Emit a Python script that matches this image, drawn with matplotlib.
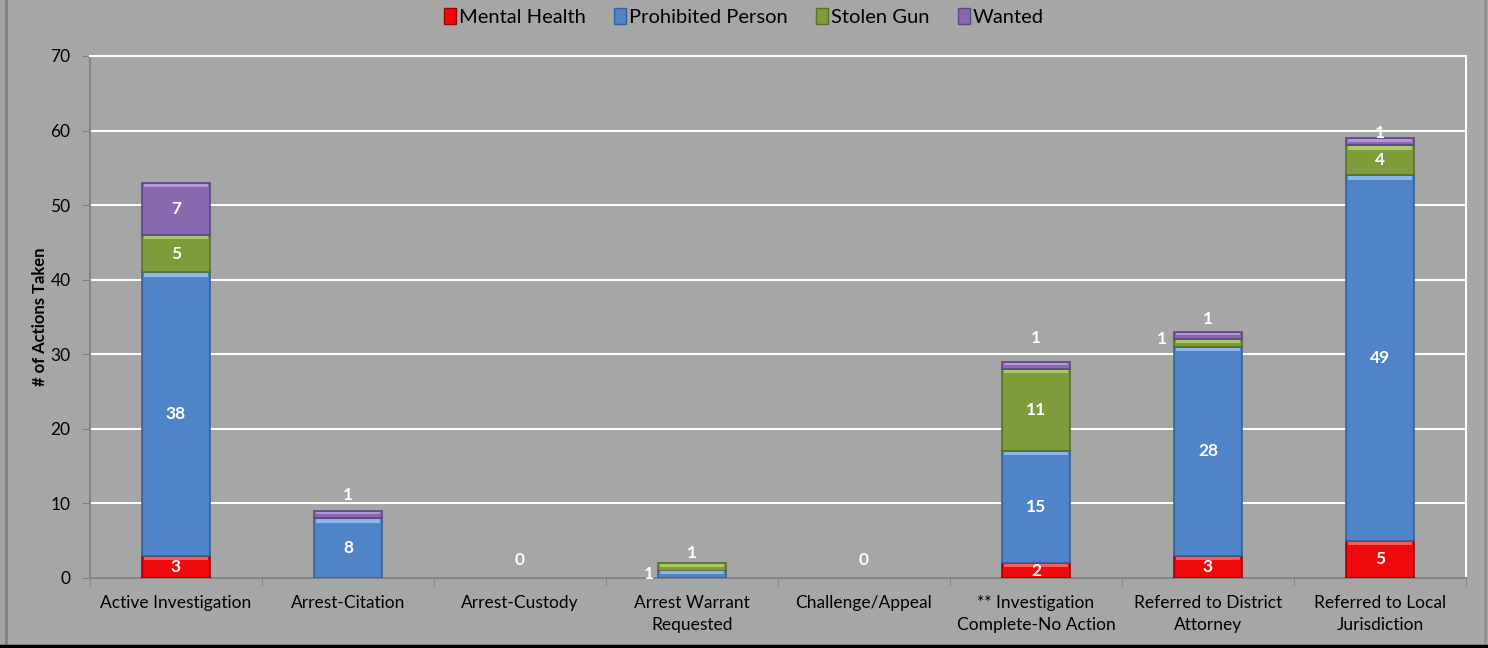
#!/usr/bin/env python
# encoding: utf-8
"""
plot.py - stacked bar chart of actions taken by category
"""
import numpy as np
import matplotlib
matplotlib.use("Agg")
import matplotlib.pyplot as plt
from matplotlib.lines import Line2D
from matplotlib.patches import Patch

# Data
categories = ["Active Investigation", "Arrest-Citation", "Arrest-Custody",
              "Arrest Warrant\nRequested", "Challenge/Appeal",
              "** Investigation\nComplete-No Action", "Referred to District\nAttorney",
              "Referred to Local\nJurisdiction"]
series_names = ["Mental Health", "Prohibited Person", "Stolen Gun", "Wanted"]
mental_health = [3, 0, 0, 0, 0, 2, 3, 5]
prohibited_person = [38, 8, 0, 1, 0, 15, 28, 49]
stolen_gun = [5, 0, 0, 1, 0, 11, 1, 4]
wanted = [7, 1, 0, 0, 0, 1, 1, 1]
y_ticks = [0, 10, 20, 30, 40, 50, 60, 70]

colors = ["#ee0a0a", "#4f84c8", "#7f9c3c", "#8868ae"]
edges = ["#a00000", "#36609a", "#58702a", "#5e4680"]
lights = ["#ff5a5a", "#8ab8ee", "#aac86a", "#b596d8"]
bg = "#a6a6a6"

plt.rcParams["font.family"] = ["Lato", "DejaVu Sans"]

fig = plt.figure(figsize=(14.88, 6.48), dpi=100, facecolor=bg)
ax = fig.add_axes([90 / 1488, 1 - 578 / 648, (1466 - 90) / 1488, (578 - 56) / 648])
ax.set_facecolor(bg)

x = np.arange(len(categories))
width = 0.4
bottom = np.zeros(len(categories))
all_series = [mental_health, prohibited_person, stolen_gun, wanted]
for vals, c, ec, lc in zip(all_series, colors, edges, lights):
    vals = np.array(vals, dtype=float)
    m = vals > 0
    ax.bar(x[m], vals[m], width, bottom=bottom[m], color=c, edgecolor=ec,
           linewidth=1.2, zorder=3)
    # bevel highlight along the top of each segment
    hl = np.minimum(vals[m] * 0.35, 0.45)
    ax.bar(x[m], hl, width * 0.93, bottom=bottom[m] + vals[m] - hl - 0.12,
           color=lc, linewidth=0, zorder=4)
    bottom += vals

# Value labels (offsets in points: default centred, small segments moved)
moved = {
    (1, 3): (0, 14), (3, 1): (-31, 0), (3, 2): (0, 10),
    (5, 3): (0, 20), (6, 2): (-33, 3), (6, 3): (0, 12), (7, 3): (0, 6),
}
bottom = np.zeros(len(categories))
for si, vals in enumerate(all_series):
    for ci, v in enumerate(vals):
        if v > 0:
            off = moved.get((ci, si), (0, 0))
            ax.annotate(str(v), (x[ci], bottom[ci] + v / 2), xytext=off,
                        textcoords="offset points", ha="center", va="center",
                        color="white", fontsize=12.5, fontweight="bold", zorder=6)
    bottom += np.array(vals)
for ci in range(len(categories)):
    if bottom[ci] == 0:
        ax.annotate("0", (x[ci], 0), xytext=(0, 13), textcoords="offset points",
                    ha="center", va="center", color="white", fontsize=12.5,
                    fontweight="bold", zorder=6)

# Axes styling
ax.set_xlim(-0.5, len(categories) - 0.5)
ax.set_ylim(0, 70)
ax.set_yticks(y_ticks)
ax.yaxis.grid(True, color="white", linewidth=1.5, zorder=0)
ax.set_axisbelow(True)
ax.set_xticks(x)
ax.set_xticklabels(categories, fontsize=12.5, linespacing=1.45)
ax.set_xticks(np.arange(-0.5, len(categories)), minor=True)
ax.tick_params(axis="x", which="major", length=0, pad=12)
ax.tick_params(axis="x", which="minor", length=6, color="#7f7f7f")
ax.tick_params(axis="y", length=6, color="#7f7f7f", labelsize=12.5, pad=8)
for s in ["left", "bottom"]:
    ax.spines[s].set_color("#858585")
    ax.spines[s].set_linewidth(1.5)
for s in ["top", "right"]:
    ax.spines[s].set_color("white")
    ax.spines[s].set_linewidth(1.5)
ax.set_ylabel("# of Actions Taken", fontsize=12, fontweight="bold", labelpad=2)

handles = [Patch(facecolor=c, edgecolor=e) for c, e in zip(colors, edges)]
fig.legend(handles, series_names, loc="center", bbox_to_anchor=(0.5, 1 - 17 / 648),
           ncol=4, frameon=False, fontsize=14.5, handlelength=0.6, handleheight=0.8,
           handletextpad=0.15, columnspacing=1.4)

# outer frame
fig.add_artist(Line2D([6 / 1488, 6 / 1488], [2 / 648, 1], color="#808080", linewidth=2))
fig.add_artist(Line2D([1485 / 1488, 1485 / 1488], [2 / 648, 1], color="#909090", linewidth=2))
fig.add_artist(Line2D([0, 1], [2 / 648, 2 / 648], color="black", linewidth=2.5))

fig.savefig("out.png", dpi=100, facecolor=bg)
